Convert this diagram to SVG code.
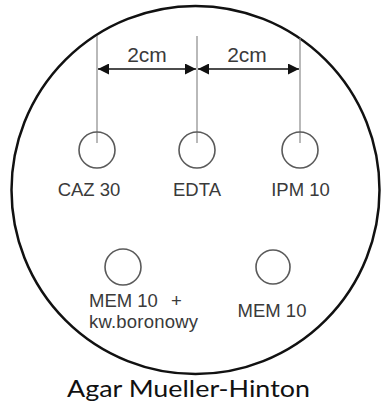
<svg xmlns="http://www.w3.org/2000/svg" width="381" height="405" viewBox="0 0 381 405">
<style>
.plate{fill:none;stroke:#111;stroke-width:2.5}
.guide{stroke:#8a8a8a;stroke-width:1.2}
.disc{fill:none;stroke:#5a5a5a;stroke-width:1.6}
.dim{stroke:#111;stroke-width:1.7;fill:none}
.lbl{font-family:"Liberation Sans",Arial,sans-serif;font-size:18.5px;fill:#3a3a3a}
.dimtxt{font-family:"Liberation Sans",Arial,sans-serif;font-size:21px;fill:#3a3a3a}
.title{font-family:Lato,"Open Sans",sans-serif;font-size:24px;fill:#111}
</style>
<defs>
<marker id="ah" markerUnits="userSpaceOnUse" markerWidth="11" markerHeight="11" refX="10" refY="5" orient="auto-start-reverse" viewBox="0 0 10 10">
<path d="M0,0 L10,5 L0,10 Z" fill="#111"/>
</marker>
</defs>
<g id="plate"><circle class="plate" cx="195.5" cy="190" r="184"/></g>
<g id="connectors">
<line class="guide" x1="97" y1="36" x2="97" y2="143"/>
<line class="guide" x1="197" y1="36" x2="197" y2="143"/>
<line class="guide" x1="300" y1="38" x2="300" y2="143"/>
<line class="dim" x1="98" y1="69" x2="196" y2="69" marker-start="url(#ah)" marker-end="url(#ah)"/>
<line class="dim" x1="198" y1="69" x2="299" y2="69" marker-start="url(#ah)" marker-end="url(#ah)"/>
<text class="dimtxt" x="147" y="62" text-anchor="middle">2cm</text>
<text class="dimtxt" x="247" y="62" text-anchor="middle">2cm</text>
</g>
<g id="caz30"><circle class="disc" cx="97" cy="150" r="18"/><text class="lbl" x="89" y="196" text-anchor="middle">CAZ 30</text></g>
<g id="edta"><circle class="disc" cx="197" cy="150" r="18"/><text class="lbl" x="197" y="196" text-anchor="middle">EDTA</text></g>
<g id="ipm10"><circle class="disc" cx="300" cy="150" r="18"/><text class="lbl" x="300.5" y="196" text-anchor="middle">IPM 10</text></g>
<g id="mem10bor"><circle class="disc" cx="123" cy="267" r="18"/><text class="lbl" x="89" y="307">MEM 10<tspan x="171">+</tspan></text><text class="lbl" x="89" y="328" textLength="109" lengthAdjust="spacing">kw.boronowy</text></g>
<g id="mem10"><circle class="disc" cx="273" cy="267" r="17"/><text class="lbl" x="272" y="317" text-anchor="middle">MEM 10</text></g>
<g id="caption"><text class="title" x="67" y="397" textLength="243" lengthAdjust="spacingAndGlyphs">Agar Mueller-Hinton</text></g>
</svg>
